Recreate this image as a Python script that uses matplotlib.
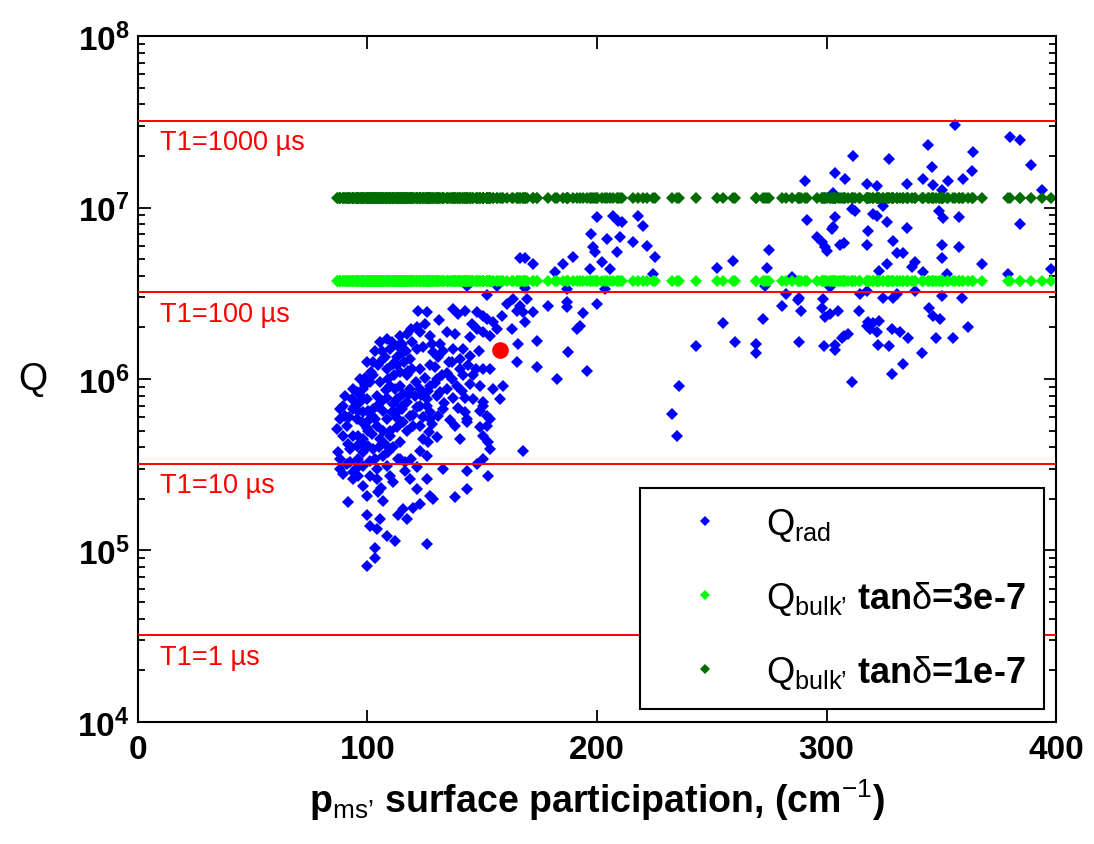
import matplotlib
matplotlib.use("Agg")
import matplotlib.pyplot as plt
import numpy as np

plt.rcParams["font.family"] = ["Liberation Sans", "DejaVu Sans"]
plt.rcParams["mathtext.fontset"] = "custom"
plt.rcParams["mathtext.rm"] = "Liberation Sans"
plt.rcParams["mathtext.it"] = "Liberation Sans:italic"
plt.rcParams["mathtext.bf"] = "Liberation Sans:bold"

# --- Q_rad, dense cluster at low surface participation ---
pms_low = [
    122.1, 125.8, 137.4, 139.6, 142.5, 147.6, 150.5, 154.8, 151.9, 145.4,
    147.6, 150.5, 153.4, 156.3, 160.6, 163.5, 166.4, 169.3, 172.3, 167.9,
    165.0, 162.8, 168.6, 165.7, 173.7, 165.0, 173.7, 158.5, 152.0,
    105.4, 108.3, 114.2, 117.1, 121.4, 122.9, 127.2, 134.5, 138.1, 144.7,
    102.5, 106.2, 109.8, 112.7, 115.6, 118.5, 121.4, 124.3, 128.7, 133.0,
    137.4, 141.7, 144.7, 150.5, 153.4,
    98.9, 102.5, 108.3, 112.7, 117.1, 122.9, 127.2, 130.1, 134.5, 140.3,
    143.9, 146.1,
    98.2, 101.1, 105.4, 109.8, 114.2, 118.5, 122.9, 127.2, 131.6, 134.5,
    138.8, 144.7, 154.8, 159.2,
    90.2, 95.3, 96.7, 99.6, 104.0, 108.3, 112.7, 117.1, 121.4, 125.8,
    130.1, 137.4, 142.5, 150.5, 157.7,
    89.5, 93.8, 98.2, 102.5, 106.9, 110.5, 114.9, 118.5, 122.9, 127.2,
    133.0, 142.5, 143.2, 150.5, 151.9,
    88.0, 90.9, 95.3, 99.6, 104.0, 108.3, 112.7, 115.6, 120.0, 122.9,
    127.2, 143.2, 149.0, 153.4,
    89.5, 93.8, 98.2, 101.8, 105.4, 109.8, 114.2, 124.3, 126.5, 140.3,
    150.5, 152.6,
    87.3, 92.4, 95.3, 98.2, 102.5, 106.9, 111.2, 114.2, 125.8, 153.4,
    167.9,
    88.0, 90.9, 93.8, 98.2, 101.1, 104.0, 108.3, 113.4, 121.4, 133.0,
    143.2, 147.6, 150.5,
    89.5, 93.8, 98.2, 101.1, 104.0, 109.8, 118.5, 121.4, 125.8, 143.2,
    152.6,
    91.6, 99.6, 104.7, 106.9, 115.6, 120.0, 122.9, 127.2, 128.7, 138.1,
    99.6, 105.4, 113.4, 117.1, 101.1, 104.0,
    108.3, 112.0, 103.3, 125.8, 103.3, 99.6,
    93.1, 96.0, 97.4, 100.4, 91.6, 96.0, 100.4, 103.3, 106.2, 109.1,
    111.2, 114.9, 119.3, 117.8, 115.6, 111.2, 106.9, 112.7, 117.1, 120.7,
    125.0, 129.4, 131.6, 130.8, 136.7, 140.3, 136.7, 141.7, 130.8, 138.1,
    149.0, 149.0, 151.9, 103.3, 109.1, 116.3, 90.2, 88.0, 86.6, 88.0,
    96.0, 96.0, 100.4, 104.0, 112.0, 106.9, 103.3, 99.6, 96.7, 93.8,
    143.2, 156.3, 168.6,
]
q_low = [
    2.50e6, 2.45e6, 2.56e6, 2.39e6, 2.50e6, 2.45e6, 2.34e6, 2.14e6, 2.24e6, 2.09e6,
    1.95e6, 1.87e6, 1.79e6, 1.95e6, 2.73e6, 2.93e6, 2.67e6, 2.93e6, 2.45e6, 2.45e6,
    2.50e6, 1.95e6, 2.14e6, 1.60e6, 1.67e6, 1.25e6, 1.17e6, 2.34e6, 3.10e6,
    1.64e6, 1.71e6, 1.79e6, 1.83e6, 2.00e6, 1.87e6, 1.79e6, 1.87e6, 1.83e6, 1.75e6,
    1.25e6, 1.46e6, 1.50e6, 1.34e6, 1.43e6, 1.31e6, 1.50e6, 1.53e6, 1.43e6, 1.46e6,
    1.50e6, 1.50e6, 1.37e6, 1.14e6, 1.14e6,
    1.02e6, 1.05e6, 1.14e6, 1.20e6, 1.05e6, 1.14e6, 1.20e6, 1.00e6, 1.09e6, 1.14e6,
    1.20e6, 1.05e6,
    8.73e5, 9.55e5, 9.55e5, 9.14e5, 9.14e5, 8.73e5, 8.73e5, 9.14e5, 8.36e5, 8.73e5,
    9.14e5, 9.35e5, 8.73e5, 9.14e5,
    8.00e5, 8.36e5, 7.31e5, 7.64e5, 8.00e5, 7.80e5, 7.64e5, 7.31e5, 6.84e5, 7.64e5,
    8.00e5, 7.80e5, 7.80e5, 7.31e5, 7.64e5,
    6.98e5, 6.68e5, 6.40e5, 6.68e5, 6.53e5, 6.40e5, 6.68e5, 6.11e5, 6.98e5, 6.40e5,
    6.68e5, 6.40e5, 5.85e5, 6.98e5, 6.11e5,
    5.85e5, 5.35e5, 5.85e5, 5.58e5, 5.35e5, 5.85e5, 5.22e5, 5.58e5, 5.35e5, 5.35e5,
    5.85e5, 5.58e5, 5.22e5, 5.85e5,
    4.67e5, 4.67e5, 4.47e5, 4.78e5, 4.47e5, 4.67e5, 4.27e5, 4.47e5, 4.27e5, 4.47e5,
    4.67e5, 4.27e5,
    3.73e5, 3.91e5, 4.08e5, 3.73e5, 3.91e5, 3.57e5, 3.99e5, 3.41e5, 3.57e5, 3.91e5,
    3.82e5,
    2.99e5, 3.19e5, 2.86e5, 3.12e5, 3.34e5, 2.99e5, 3.12e5, 3.41e5, 3.05e5, 2.99e5,
    2.92e5, 3.19e5, 3.41e5,
    2.79e5, 2.61e5, 2.39e5, 2.73e5, 2.61e5, 2.73e5, 2.61e5, 2.28e5, 2.61e5, 2.28e5,
    2.73e5,
    1.91e5, 2.09e5, 2.18e5, 1.95e5, 1.74e5, 1.78e5, 1.87e5, 2.09e5, 2.00e5, 2.04e5,
    1.60e5, 1.52e5, 1.60e5, 1.52e5, 1.39e5, 1.33e5,
    1.22e5, 1.14e5, 1.04e5, 1.09e5, 9.10e4, 8.15e4,
    7.64e5, 6.53e5, 5.58e5, 4.99e5, 4.18e5, 3.41e5, 4.08e5, 5.85e5, 7.47e5, 1.00e6,
    1.22e6, 1.60e6, 1.64e6, 1.12e6, 8.17e5, 7.14e5, 4.99e5, 6.40e5, 4.99e5, 8.00e5,
    1.02e6, 1.17e6, 1.60e6, 1.34e6, 1.25e6, 1.31e6, 1.00e6, 1.05e6, 6.11e5, 5.35e5,
    6.53e5, 9.14e5, 5.35e5, 3.41e5, 3.73e5, 3.27e5, 6.11e5, 6.68e5, 5.10e5, 3.41e5,
    2.73e5, 4.67e5, 6.53e5, 6.98e5, 8.73e5, 1.31e6, 1.46e6, 1.25e6, 1.00e6, 8.73e5,
    3.50e6, 3.50e6, 3.40e6,
]

# --- Q_rad, extra points in the solid core of the cluster ---
pms_core = [
    92.0, 94.5, 97.0, 99.0, 101.5, 104.5, 107.5, 110.5, 113.5, 116.0,
    119.5, 121.0, 123.5, 126.0, 128.0, 130.5, 105.0, 107.5, 110.0, 113.0,
    115.0, 118.0, 120.0, 124.0, 126.5, 129.5, 132.5, 135.5, 133.5, 136.0,
    139.5, 141.0, 146.0, 147.5, 148.5, 92.5, 95.0, 97.5, 100.0, 102.0,
    108.0, 111.5, 114.0, 117.0, 119.0, 125.0, 131.0, 128.0, 106.0, 111.0,
    116.5, 119.0, 123.0, 127.0,
]
q_core = [
    6.0e5, 7.0e5, 8.0e5, 9.2e5, 1.1e6, 1.2e6, 1.35e6, 1.65e6, 1.55e6, 1.25e6,
    1.15e6, 9.6e5, 8.1e5, 7.0e5, 5.5e5, 4.6e5, 4.0e5, 4.2e5, 5.0e5, 5.9e5,
    7.0e5, 8.2e5, 6.2e5, 6.0e5, 8.5e5, 9.5e5, 1.05e6, 1.25e6, 7.2e5, 5.8e5,
    6.8e5, 8.5e5, 7.6e5, 1.15e6, 1.45e6, 3.3e5, 3.0e5, 4.2e5, 5.2e5, 6.1e5,
    8.6e5, 1.05e6, 1.1e6, 1.45e6, 1.95e6, 2.1e6, 2.2e6, 1.6e6, 2.3e5, 2.5e5,
    2.9e5, 3.4e5, 3.8e5, 4.9e5,
]

# --- Q_rad, 165-240 cm^-1 ---
pms_mid = [
    199.8, 207.1, 209.3, 210.7, 218.0, 220.1, 197.6, 204.2, 210.0, 215.8,
    221.6, 198.4, 199.1, 208.5, 225.2, 189.7, 185.3, 166.4, 168.6, 172.2,
    181.7, 196.9, 202.0, 205.6, 224.5, 178.8, 186.8, 187.0, 199.8, 194.0,
    191.1, 192.6, 187.5, 195.5, 182.4, 232.5, 234.7, 235.8, 186.8, 203.4,
]
q_mid = [
    8.75e6, 8.95e6, 8.37e6, 8.19e6, 8.95e6, 7.83e6, 7.00e6, 6.55e6, 6.70e6, 6.27e6,
    5.99e6, 5.85e6, 5.47e6, 5.47e6, 5.12e6, 5.12e6, 4.68e6, 5.07e6, 5.07e6, 4.68e6,
    4.19e6, 4.38e6, 4.79e6, 4.38e6, 4.09e6, 2.67e6, 2.80e6, 2.62e6, 2.74e6, 2.44e6,
    1.95e6, 2.05e6, 1.43e6, 1.12e6, 1.00e6, 6.24e5, 4.67e5, 9.06e5, 3.35e6, 3.35e6,
]

# --- Q_rad, high surface participation ---
pms_high = [
    356.0, 379.9, 384.3, 344.3, 311.6, 327.3, 363.9, 345.8, 388.9, 303.6,
    308.0, 290.6, 317.5, 321.8, 334.9, 342.2, 346.5, 350.1, 353.0, 359.3,
    363.2, 393.7, 302.9, 310.9, 312.4, 324.7, 320.4, 322.1, 349.1, 350.9,
    357.8, 291.6, 303.7, 303.0, 302.2, 326.5, 318.2, 334.9, 384.3, 295.7,
    297.9, 299.3, 300.0, 305.8, 307.6, 317.5, 329.1, 330.8, 333.4, 350.1,
    357.8, 350.1, 326.5, 338.5, 337.1, 367.6, 323.0, 342.2, 275.1, 273.9,
    259.4, 252.1, 379.1, 398.0, 352.3, 301.5, 273.2, 284.8,
    282.3, 288.1, 287.7, 288.9, 280.4, 272.4, 255.0, 260.1, 243.1, 269.2,
    269.2, 298.6, 297.9, 299.3, 301.5, 305.1, 314.6, 317.5, 314.3, 324.7,
    329.1, 330.5, 338.5, 350.1, 358.9, 344.8, 346.5, 349.4, 317.9, 320.4,
    323.0, 318.9, 321.8, 317.5, 307.6, 309.5, 306.6, 288.1, 298.9, 303.7,
    303.7, 322.5, 327.3, 328.4, 332.0, 335.6, 347.7, 354.9, 361.8, 341.4,
    333.2, 328.4, 310.9,
]
q_high = [
    3.03e7, 2.56e7, 2.49e7, 2.30e7, 1.99e7, 1.92e7, 2.10e7, 1.72e7, 1.77e7, 1.59e7,
    1.47e7, 1.42e7, 1.37e7, 1.33e7, 1.37e7, 1.47e7, 1.36e7, 1.27e7, 1.42e7, 1.47e7,
    1.64e7, 1.27e7, 1.22e7, 9.80e6, 9.50e6, 1.02e7, 9.20e6, 8.97e6, 9.60e6, 8.65e6,
    8.77e6, 8.50e6, 8.77e6, 7.67e6, 7.50e6, 8.20e6, 7.33e6, 7.57e6, 8.00e6, 6.70e6,
    6.27e6, 5.86e6, 5.61e6, 6.05e6, 6.20e6, 6.05e6, 6.41e6, 5.43e6, 5.43e6, 6.05e6,
    5.86e6, 5.06e6, 4.69e6, 4.80e6, 4.48e6, 4.69e6, 4.29e6, 4.23e6, 5.68e6, 4.42e6,
    4.90e6, 4.42e6, 4.10e6, 4.39e6, 4.10e6, 3.43e6, 3.50e6, 3.92e6,
    3.13e6, 2.96e6, 2.87e6, 2.50e6, 2.65e6, 2.24e6, 2.12e6, 1.64e6, 1.55e6, 1.60e6,
    1.42e6, 2.93e6, 2.58e6, 2.29e6, 2.39e6, 2.50e6, 3.13e6, 3.27e6, 2.50e6, 2.96e6,
    2.96e6, 3.13e6, 3.24e6, 3.03e6, 2.96e6, 2.58e6, 2.32e6, 2.24e6, 2.16e6, 2.12e6,
    2.19e6, 1.96e6, 1.87e6, 2.05e6, 1.77e6, 1.83e6, 1.73e6, 1.64e6, 1.55e6, 1.57e6,
    1.48e6, 1.58e6, 1.55e6, 1.96e6, 1.89e6, 1.73e6, 1.73e6, 1.73e6, 2.00e6, 1.42e6,
    1.22e6, 1.07e6, 9.60e5,
]

# bulk-loss limited Q (same designs), for two loss tangents
q_bulk_3e7 = 3.75e6
q_bulk_1e7 = 1.13e7

# T1 reference lines
t1_q = [3.2e4, 3.2e5, 3.2e6, 3.2e7]
t1_labels = ["T1=1 µs", "T1=10 µs", "T1=100 µs", "T1=1000 µs"]

# chosen design
design_pms = [157.7]
design_q = [1.48e6]

pms_all = np.array(pms_low + pms_core + pms_mid + pms_high)
q_all = np.array(q_low + q_core + q_mid + q_high)

fig = plt.figure(figsize=(10.94, 8.45), dpi=100)
ax = fig.add_axes([0.1261, 0.1444, 0.8392, 0.8118])

ms = 6.2
ax.plot(pms_all, q_all, "D", color="#0000ff", ms=ms, mew=0, ls="none",
        label=r"$\mathrm{Q_{rad}}$")
ax.plot(pms_all, np.full(pms_all.size, q_bulk_3e7), "D", color="#00ff00", ms=ms,
        mew=0, ls="none", label=r"$\mathrm{Q_{bulk’}}$ tan$\mathrm{\delta}$=3e-7")
ax.plot(pms_all, np.full(pms_all.size, q_bulk_1e7), "D", color="#006c00", ms=ms,
        mew=0, ls="none", label=r"$\mathrm{Q_{bulk’}}$ tan$\mathrm{\delta}$=1e-7")

for q, lab in zip(t1_q, t1_labels):
    ax.axhline(q, color="red", lw=1.4, zorder=3)
    ax.annotate(lab, xy=(9.6, q), xytext=(0, -6), textcoords="offset points",
                color="red", fontsize=19.5, va="top", ha="left")

ax.plot(design_pms, design_q, "o", color="red", ms=12, mew=0, zorder=4)

ax.set_yscale("log")
ax.set_xlim(0, 400)
ax.set_ylim(1e4, 1e8)
ax.set_xticks([0, 100, 200, 300, 400])

ax.tick_params(which="both", direction="in", top=True, right=True, width=1.3)
ax.tick_params(which="major", length=9, labelsize=24)
ax.tick_params(axis="x", which="major", pad=9)
ax.tick_params(axis="y", which="major", pad=6)
ax.tick_params(which="minor", length=5)
for lbl in ax.get_xticklabels() + ax.get_yticklabels():
    lbl.set_fontweight("bold")
for sp in ax.spines.values():
    sp.set_linewidth(1.5)

ax.set_xlabel(r"p$_{\mathrm{ms’}}$ surface participation, (cm$^{\mathrm{-1}}$)",
              fontsize=27, fontweight="bold", labelpad=8)
ax.set_ylabel(r"$\mathrm{Q}$", fontsize=27, rotation=0, labelpad=32, va="center")

leg = ax.legend(loc="lower right", bbox_to_anchor=(0.987, 0.019), borderaxespad=0,
                fancybox=False, framealpha=1, edgecolor="black",
                prop={"size": 26, "weight": "bold"}, markerscale=0.75,
                handlelength=2.6, handletextpad=0.4, labelspacing=1.0,
                borderpad=0.5)
leg.get_frame().set_linewidth(1.5)

fig.savefig("out.png", dpi=100)
